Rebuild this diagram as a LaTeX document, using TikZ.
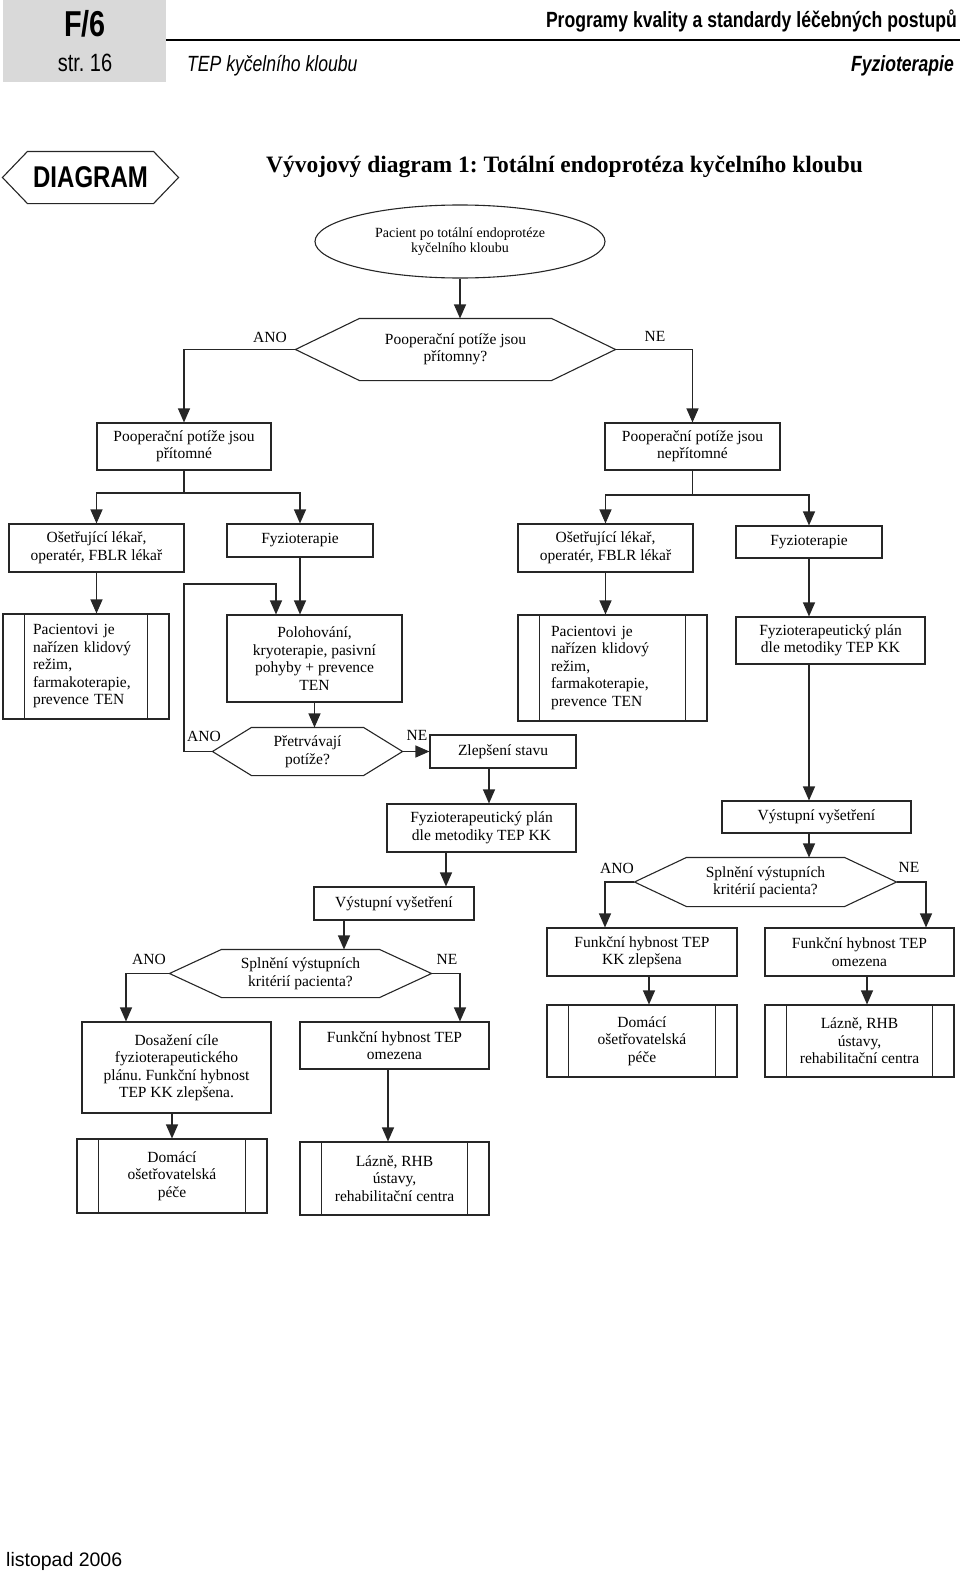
\documentclass[tikz,border=0pt]{standalone}
\usepackage{fontspec}
\setmainfont{Liberation Serif}
\newfontfamily\headfont[FakeStretch=0.8]{Liberation Sans}
\newfontfamily\footfont{Liberation Sans}
\usetikzlibrary{arrows.meta,shapes.geometric}
\definecolor{headgray}{gray}{0.85}
\frenchspacing

\begin{document}
\begin{tikzpicture}[x=1pt, y=-1pt]
\tikzstyle{main}=[rectangle, draw=black!85, line width=1.1pt, inner sep=0pt, align=center, font=\fontsize{15.5}{17.5}\selectfont]
\tikzstyle{rect}=[main, minimum width=189, minimum height=47]
\tikzstyle{decision}=[main, draw=none, minimum width=261, minimum height=47]
\tikzstyle{start}=[main, ellipse, minimum width=290, minimum height=73, font=\fontsize{14}{15.5}\selectfont]
\tikzstyle{answer}=[inner sep=0pt, font=\fontsize{15.5}{17.5}\selectfont]
\tikzstyle{head}=[inner sep=0pt, font=\headfont\fontsize{22}{22}\selectfont]
\tikzstyle{link}=[line width=1.1pt, draw=black!85]
\tikzstyle{connect}=[link, -{Triangle[length=14pt, width=12pt]}]

\useasboundingbox (0,0) rectangle (960,1576);

% header
\fill[headgray] (3,0) rectangle (166,82);
\draw[line width=2.5pt] (166,40) -- (960,40);
\node[head, anchor=base, font=\headfont\bfseries\fontsize{36}{36}\selectfont] (sheet) at (85,37) {F/6};
\node[head, anchor=base, font=\headfont\fontsize{25}{25}\selectfont] (page) at (85,72) {str. 16};
\node[head, anchor=base east, font=\headfont\bfseries\fontsize{22}{22}\selectfont] (series) at (957,28) {Programy kvality a standardy léčebných postupů};
\node[head, anchor=base west, font=\headfont\itshape\fontsize{22}{22}\selectfont] (topic) at (187,72) {TEP kyčelního kloubu};
\node[head, anchor=base east, font=\headfont\bfseries\itshape\fontsize{22}{22}\selectfont] (field) at (954,72) {Fyzioterapie};

\node[decision, minimum width=175, minimum height=51, font=\headfont\bfseries\fontsize{30}{30}\selectfont] (diagramtag) at (90.5,177.5) {DIAGRAM};
\node[anchor=base west, inner sep=0pt, font=\bfseries\fontsize{23.5}{23.5}\selectfont] (title) at (266,172) {Vývojový diagram 1: Totální endoprotéza kyčelního kloubu};

% top of the chart
\node[start] (patient) at (460,241.5) {Pacient po totální endoprotéze\\kyčelního kloubu};
\node[decision, minimum width=319, minimum height=61] (symptq) at (455.5,349.5) {Pooperační potíže jsou\\přítomny?};
\node[rect, minimum width=174] (presentbox) at (184,446.5) {Pooperační potíže jsou\\přítomné};
\node[rect, minimum width=175] (absentbox) at (692.5,446.5) {Pooperační potíže jsou\\nepřítomné};

% left branch
\node[rect, minimum width=175, minimum height=48] (doctorL) at (96.5,548) {Ošetřující lékař,\\operatér, FBLR lékař};
\node[rect, minimum width=146, minimum height=33] (physioL) at (300,540.5) {Fyzioterapie};
\node[rect, minimum width=166, minimum height=105, text width=106, align=left] (restL) at (86,666.5) {Pacientovi je\\nařízen klidový\\režim,\\farmakoterapie,\\prevence TEN};
\node[rect, minimum width=175, minimum height=87] (careL) at (314.5,658.5) {Polohování,\\kryoterapie, pasivní\\pohyby + prevence\\TEN};
\node[decision, minimum width=189] (persistq) at (307.5,751.5) {Přetrvávají\\potíže?};
\node[rect, minimum width=146, minimum height=33] (improved) at (503,751.5) {Zlepšení stavu};
\node[rect, minimum height=48] (planL) at (481.5,828) {Fyzioterapeutický plán\\dle metodiky TEP KK};
\node[rect, minimum width=160, minimum height=33] (examL) at (394,903.5) {Výstupní vyšetření};
\node[decision] (exitqL) at (300.5,973.5) {Splnění výstupních\\kritérií pacienta?};
\node[rect, minimum height=91] (goalL) at (176.5,1067.5) {Dosažení cíle\\fyzioterapeutického\\plánu. Funkční hybnost\\TEP KK zlepšena.};
\node[rect] (limitedL) at (394.5,1045.5) {Funkční hybnost TEP\\omezena};
\node[rect, minimum width=190, minimum height=74] (homeL) at (172,1176) {Domácí\\ošetřovatelská\\péče};
\node[rect, minimum height=73] (spaL) at (394.5,1178.5) {Lázně, RHB\\ústavy,\\rehabilitační centra};

% right branch
\node[rect, minimum width=175, minimum height=48] (doctorR) at (605.5,548) {Ošetřující lékař,\\operatér, FBLR lékař};
\node[rect, minimum width=146, minimum height=32] (physioR) at (809,542) {Fyzioterapie};
\node[rect, minimum height=106, text width=123, align=left] (restR) at (612.5,668) {Pacientovi je\\nařízen klidový\\režim,\\farmakoterapie,\\prevence TEN};
\node[rect] (planR) at (830.5,640.5) {Fyzioterapeutický plán\\dle metodiky TEP KK};
\node[rect, minimum height=32] (examR) at (816.5,817) {Výstupní vyšetření};
\node[decision, minimum height=48] (exitqR) at (765.5,882) {Splnění výstupních\\kritérií pacienta?};
\node[rect, minimum width=190, minimum height=48] (improvedR) at (642,952) {Funkční hybnost TEP\\KK zlepšena};
\node[rect, minimum height=48] (limitedR) at (859.5,952) {Funkční hybnost TEP\\omezena};
\node[rect, minimum width=190, minimum height=72] (homeR) at (642,1041) {Domácí\\ošetřovatelská\\péče};
\node[rect, minimum height=72] (spaR) at (859.5,1041) {Lázně, RHB\\ústavy,\\rehabilitační centra};

% hexagons and double-sided boxes
\foreach \n/\d in {symptq/64, persistq/39, exitqL/52, exitqR/52, diagramtag/25}
  \draw[link] (\n.west) -- ([xshift=\d]\n.north west) -- ([xshift=-\d]\n.north east) -- (\n.east) -- ([xshift=-\d]\n.south east) -- ([xshift=\d]\n.south west) -- cycle;
\foreach \n in {restL, restR, homeL, homeR, spaL, spaR} {
  \draw[link] ([xshift=22]\n.north west) -- ([xshift=22]\n.south west);
  \draw[link] ([xshift=-22]\n.north east) -- ([xshift=-22]\n.south east);
}

% answers
\node[answer] (symptyes) at (270,337) {ANO};
\node[answer] (symptno) at (655,336) {NE};
\node[answer] (persistyes) at (204,736) {ANO};
\node[answer] (persistno) at (417,735) {NE};
\node[answer] (exitLyes) at (149,959) {ANO};
\node[answer] (exitLno) at (447,959) {NE};
\node[answer] (exitRyes) at (617,868) {ANO};
\node[answer] (exitRno) at (909,867) {NE};

\coordinate (presentsplit) at (184,493);
\coordinate (absentsplit) at (692.5,495);
\coordinate (loopL) at (184,584);

\draw[connect] (patient.south) -- (patient.south |- symptq.north);
\draw[connect] (symptq.west) -| (presentbox.north);
\draw[connect] (symptq.east) -| (absentbox.north);
\draw[link] (presentbox.south) -- (presentsplit);
\draw[connect] (presentsplit) -| (doctorL.north);
\draw[connect] (presentsplit) -| (physioL.north);
\draw[link] (absentbox.south) -- (absentsplit);
\draw[connect] (absentsplit) -| (doctorR.north);
\draw[connect] (absentsplit) -| (physioR.north);

\draw[connect] (doctorL.south) -- (doctorL.south |- restL.north);
\draw[connect] (physioL.south) -- (physioL.south |- careL.north);
\draw[connect] (careL.south) -- (careL.south |- persistq.north);
\draw[connect] (persistq.west) -| (loopL) -| ([xshift=-38.5]careL.north);
\draw[connect] (persistq.east) -- (improved.west);
\draw[connect] ([xshift=-14]improved.south) -- ([xshift=-14]improved.south |- planL.north);
\draw[connect] ([xshift=-35.5]planL.south) -- ([xshift=-35.5]planL.south |- examL.north);
\draw[connect] ([xshift=-50]examL.south) -- ([xshift=-50]examL.south |- exitqL.north);
\draw[connect] (exitqL.west) -| ([xshift=-50.5]goalL.north);
\draw[connect] (exitqL.east) -| ([xshift=65.5]limitedL.north);
\draw[connect] (homeL.north |- goalL.south) -- (homeL.north);
\draw[connect] ([xshift=-6.5]limitedL.south) -- ([xshift=-6.5]spaL.north);

\draw[connect] (doctorR.south) -- (doctorR.south |- restR.north);
\draw[connect] (physioR.south) -- (physioR.south |- planR.north);
\draw[connect] (physioR.south |- planR.south) -- (physioR.south |- examR.north);
\draw[connect] (physioR.south |- examR.south) -- (physioR.south |- exitqR.north);
\draw[connect] (exitqR.west) -| ([xshift=-37]improvedR.north);
\draw[connect] (exitqR.east) -| ([xshift=66.5]limitedR.north);
\draw[connect] ([xshift=7]improvedR.south) -- ([xshift=7]homeR.north);
\draw[connect] ([xshift=7.5]limitedR.south) -- ([xshift=7.5]spaR.north);

% footer
\node[anchor=base west, inner sep=0pt, font=\footfont\fontsize{19.5}{19.5}\selectfont] (date) at (6,1566) {listopad 2006};
\end{tikzpicture}
\end{document}
